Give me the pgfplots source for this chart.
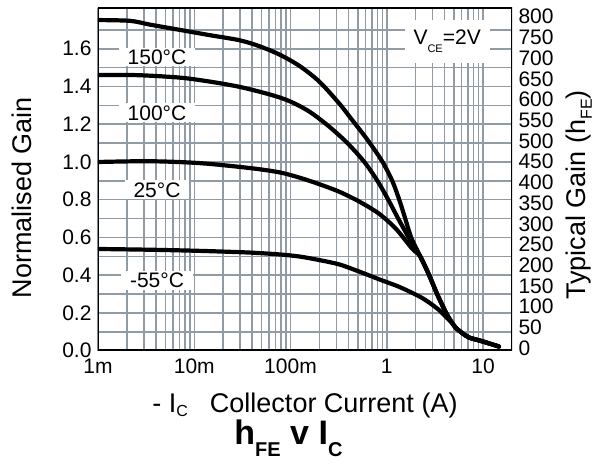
\documentclass[border=0pt]{standalone}
\usepackage{fontspec}
\setmainfont{Liberation Sans}
\usepackage{pgfplots}
\pgfplotsset{compat=1.18}

\definecolor{gridc}{RGB}{145,155,165}

\begin{document}
\begin{tikzpicture}
\begin{axis}[
  width=414pt, height=342.7pt, scale only axis,
  xmode=log, xmin=0.001, xmax=20,
  ymin=0, ymax=1.816,
  xtick={0.001,0.01,0.1,1,10},
  xticklabels={1m,10m,100m,1,10},
  minor xtick={0.002,0.003,0.004,0.005,0.006,0.007,0.008,0.009,
               0.02,0.03,0.04,0.05,0.06,0.07,0.08,0.09,
               0.2,0.3,0.4,0.5,0.6,0.7,0.8,0.9,
               2,3,4,5,6,7,8,9},
  ytick={0,0.2,0.4,0.6,0.8,1.0,1.2,1.4,1.6},
  yticklabels={0.0,0.2,0.4,0.6,0.8,1.0,1.2,1.4,1.6},
  minor ytick={0.1,0.3,0.5,0.7,0.9,1.1,1.3,1.5,1.7},
  grid=both,
  major grid style={gridc, line width=1.5pt},
  minor grid style={gridc, line width=1.5pt},
  major tick length=0pt, minor tick length=0pt,
  axis line style={draw=none},
  /pgf/number format/assume math mode=true,
  tick label style={font=\fontsize{21}{21}\selectfont},
  xticklabel style={yshift=-5pt},
  yticklabel style={xshift=-3pt},
  xlabel={- I\raisebox{-4pt}{\fontsize{16}{16}\selectfont C}\hspace{22pt}Collector Current (A)},
  xlabel style={at={(axis description cs:0.5,-0.1818)}, anchor=base, font=\fontsize{27}{27}\selectfont},
  ylabel={Normalised Gain},
  ylabel style={at={(axis description cs:-0.1606,0.447)}, anchor=base, font=\fontsize{27}{27}\selectfont},
  title={h\raisebox{-12pt}{\fontsize{20}{20}\selectfont FE}\ v I\raisebox{-12pt}{\fontsize{20}{20}\selectfont C}},
  title style={at={(axis description cs:0.46,-0.2898)}, anchor=base, font=\fontsize{34}{34}\selectfont\bfseries},
  curve/.style={black, line width=4.2pt, no markers, smooth, tension=0.5, line join=round, line cap=round},
]
% 150 C
\addplot[curve] coordinates {
 (0.001,1.752) (0.00215,1.748) (0.00346,1.728) (0.00708,1.70) (0.0145,1.672)
 (0.0296,1.645) (0.0478,1.613) (0.0769,1.569) (0.124,1.509) (0.2,1.425)
 (0.322,1.309) (0.408,1.242) (0.519,1.174) (0.659,1.104) (0.897,1.003) (1.14,0.9)
 (1.348,0.8) (1.555,0.7) (1.794,0.6)
 (2.224,0.5) (2.757,0.4) (3.337,0.3) (4.136,0.2) (4.773,0.147)
 (5.25,0.12) (6.06,0.094) (7.16,0.07) (9.77,0.05) (14.66,0.022)
};
% 100 C
\addplot[curve] coordinates {
 (0.001,1.461) (0.0026,1.460) (0.0071,1.447) (0.0145,1.426) (0.0296,1.398)
 (0.0607,1.358) (0.098,1.322) (0.157,1.267) (0.253,1.187) (0.39,1.1)
 (0.585,1.0) (0.8,0.9) (1.036,0.8) (1.315,0.7) (1.69,0.6)
 (2.224,0.5) (2.757,0.4) (3.337,0.3) (4.136,0.2) (4.773,0.147)
 (5.25,0.12) (6.06,0.094) (7.16,0.07) (9.77,0.05) (14.66,0.022)
};
% 25 C
\addplot[curve] coordinates {
 (0.001,1.0) (0.00346,1.004) (0.0114,0.994) (0.0376,0.968) (0.0769,0.945)
 (0.124,0.917) (0.2,0.882) (0.322,0.842) (0.519,0.79) (0.836,0.725)
 (1.25,0.645) (1.84,0.54)
 (2.224,0.5) (2.757,0.4) (3.337,0.3) (4.136,0.2) (4.773,0.147)
 (5.25,0.12) (6.06,0.094) (7.16,0.07) (9.77,0.05) (14.66,0.022)
};
% -55 C
\addplot[curve] coordinates {
 (0.001,0.539) (0.00346,0.535) (0.0114,0.529) (0.0376,0.520) (0.0769,0.510)
 (0.124,0.499) (0.200,0.480) (0.322,0.457) (0.519,0.419) (0.836,0.378)
 (1.35,0.338) (2.17,0.288) (2.76,0.255) (3.5,0.215) (4.14,0.178) (4.773,0.147)
 (5.25,0.12) (6.06,0.094) (7.16,0.07) (9.77,0.05) (14.66,0.022)
};
\tikzset{lbl/.style={fill=white, inner xsep=9pt, inner ysep=2pt, font=\fontsize{21}{21}\selectfont}}
\node[lbl] at (axis cs:0.0041,1.556) {150°C};
\node[lbl] at (axis cs:0.0041,1.26) {100°C};
\node[lbl] at (axis cs:0.0041,0.852) {25°C};
\node[lbl] at (axis cs:0.0041,0.373) {-55°C};
\node[fill=white, minimum width=85pt, minimum height=43pt, inner sep=0pt, font=\fontsize{21}{21}\selectfont]
  at (axis cs:4.24,1.638) {V\raisebox{-8pt}{\fontsize{11}{11}\selectfont CE}=2V};
\draw[line width=3pt] (rel axis cs:0,0) rectangle (rel axis cs:1,1);
\end{axis}
\begin{axis}[
  width=414pt, height=342.7pt, scale only axis,
  xmode=log, xmin=0.001, xmax=20,
  ymin=-6, ymax=821,
  axis y line*=right, axis x line=none,
  ytick={0,50,100,150,200,250,300,350,400,450,500,550,600,650,700,750,800},
  major tick length=0pt,
  axis line style={draw=none},
  /pgf/number format/assume math mode=true,
  tick label style={font=\fontsize{21}{21}\selectfont},
  yticklabel style={xshift=3pt},
  ylabel={Typical Gain (h\raisebox{-6pt}{\fontsize{16}{16}\selectfont FE})},
  ylabel style={at={(axis description cs:1.1787,0.4543)}, anchor=base, font=\fontsize{27}{27}\selectfont},
]
\end{axis}
\pgfresetboundingbox
\useasboundingbox (-98pt,-114.3pt) rectangle (500pt,350.7pt);
\end{tikzpicture}
\end{document}
